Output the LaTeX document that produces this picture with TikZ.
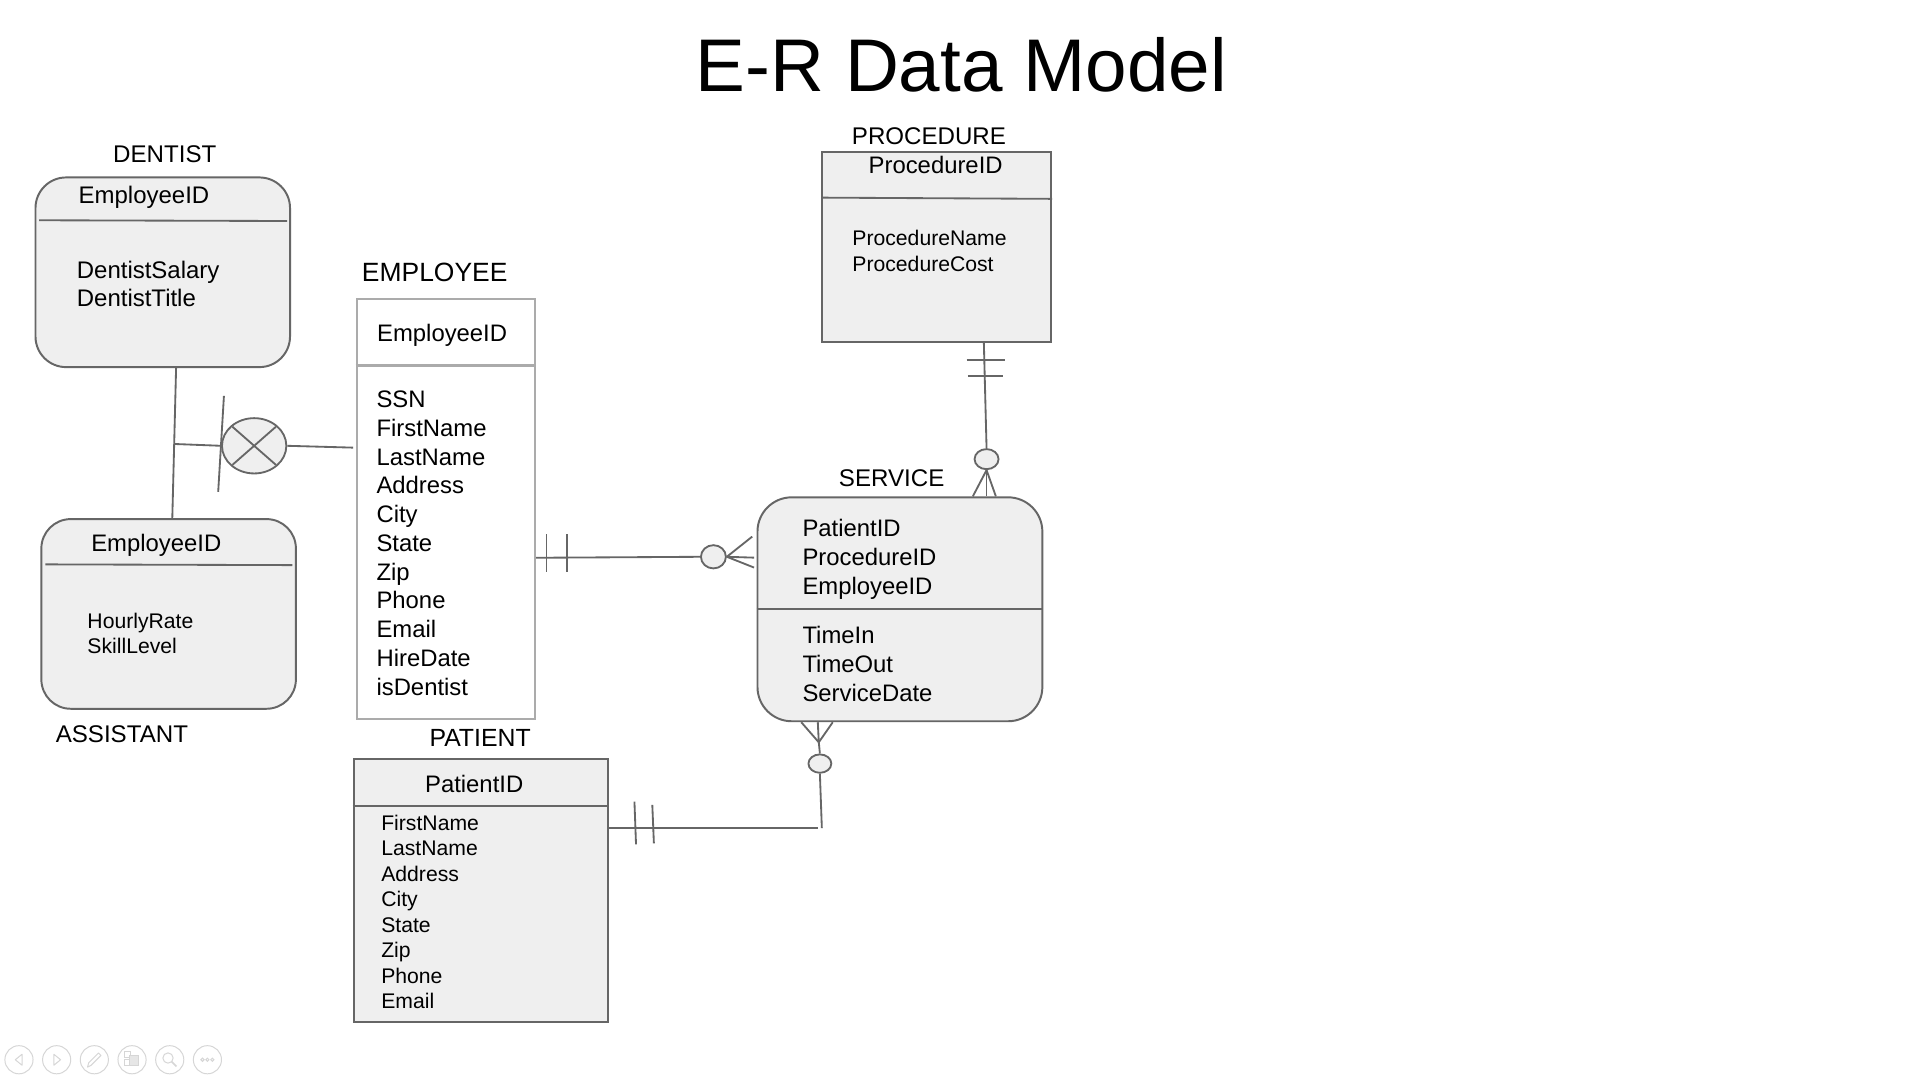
\documentclass[tikz,border=0pt]{standalone}
\usepackage{fontspec}
\setmainfont{Liberation Sans}
\usetikzlibrary{shapes.geometric,calc}
\definecolor{strk}{HTML}{666666}
\definecolor{fillg}{HTML}{EFEFEF}
\definecolor{lstrk}{HTML}{ABABAB}
\definecolor{iconc}{HTML}{D6D6D6}
\begin{document}
\begin{tikzpicture}[x=1pt,y=-1pt,
  box/.style={draw=strk, fill=fillg, line width=1.6pt, inner sep=0pt},
  rbox/.style={box, rounded corners=25pt},
  conn/.style={draw=strk, line width=1.5pt},
  circ/.style={ellipse, draw=strk, fill=fillg, line width=1.5pt, inner sep=0pt},
  lbl/.style={anchor=base west, inner sep=0pt, font=\fontsize{19.7}{23}\selectfont},
  attr/.style={anchor=base west, inner sep=0pt, font=\fontsize{19.5}{23}\selectfont},
  sattr/.style={anchor=base west, inner sep=0pt, font=\fontsize{17.3}{20}\selectfont},
  iconl/.style={draw=iconc, line width=0.8pt}
]
\useasboundingbox[fill=white] (0,0) rectangle (1569,883);

% title
\node[anchor=base, inner sep=0pt, font=\fontsize{61}{70}\selectfont] (title) at (785.6,74.9) {E-R Data Model};

% ---------- DENTIST ----------
\node[lbl] (dentlbl) at (92.3,132.8) {DENTIST};
\node[rbox, minimum width=208pt, minimum height=155pt] (dentist) at (133,222.5) {};
\draw[conn] (32,180) -- (234.6,180.6);
\node[attr, font=\fontsize{19.6}{24}\selectfont] (dent1) at (64.1,166.1) {EmployeeID};
\node[attr, font=\fontsize{19.6}{24}\selectfont] (dent2) at (62.6,227.5) {DentistSalary};
\node[attr, font=\fontsize{19.6}{24}\selectfont] (dent3) at (62.6,250.5) {DentistTitle};

% ---------- ASSISTANT ----------
\node[rbox, rounded corners=24pt, minimum width=208pt, minimum height=155pt] (assistant) at (137.8,501.7) {};
\draw[conn] (37,461.2) -- (239,461.8);
\node[attr] (asst1) at (74.4,450.7) {EmployeeID};
\node[sattr] (asst2) at (71.3,513.4) {HourlyRate};
\node[sattr] (asst3) at (71.3,533.7) {SkillLevel};
\node[lbl] (asstlbl) at (45.4,606.8) {ASSISTANT};

% ---------- EMPLOYEE ----------
\node[lbl, font=\fontsize{21.6}{25}\selectfont] (emplbl) at (295.6,230.2) {EMPLOYEE};
\node[draw=lstrk, fill=white, line width=1.8pt, inner sep=0pt, minimum width=145.8pt, minimum height=343pt] (employee) at (364.4,415.8) {};
\draw[draw=lstrk, line width=1.8pt] (employee.west|-0,298.7) -- (employee.east|-0,298.7);
\node[attr] (emp0) at (308,278.9) {EmployeeID};
\foreach \t [count=\i] in {SSN,FirstName,LastName,Address,City,State,Zip,Phone,Email,HireDate,isDentist}
  \node[attr] (emp\i) at (307.5,{333+(\i-1)*23.5}) {\t};

% ---------- PROCEDURE ----------
\node[lbl] (proclbl) at (696,118.4) {PROCEDURE};
\node[box, minimum width=187pt, minimum height=155pt] (procedure) at (765.5,202) {};
\draw[conn] (procedure.west|-0,161.5) -- (procedure.east|-0,162.5);
\node[attr, anchor=base] (proc1) at (764.6,142) {ProcedureID};
\node[sattr] (proc2) at (696.4,201) {ProcedureName};
\node[sattr] (proc3) at (696.4,221.6) {ProcedureCost};

% ---------- SERVICE ----------
\node[lbl] (servlbl) at (685.4,397.4) {SERVICE};
\node[rbox, rounded corners=28pt, minimum width=232.8pt, minimum height=183pt] (service) at (735.4,497.9) {};
\draw[conn] (service.west|-0,497.7) -- (service.east|-0,497.7);
\foreach \t/\yy [count=\i] in {PatientID/438.6,ProcedureID/462.5,EmployeeID/486,TimeIn/526,TimeOut/549.7,ServiceDate/573.6}
  \node[attr] (serv\i) at (655.6,\yy) {\t};

% ---------- PATIENT ----------
\node[lbl, font=\fontsize{20.3}{24}\selectfont] (patlbl) at (350.8,610) {PATIENT};
\node[box, minimum width=207.7pt, minimum height=214.8pt] (patient) at (392.8,727.5) {};
\draw[conn] (patient.west|-0,658.5) -- (patient.east|-0,658.5);
\node[attr, anchor=base] (pat0) at (387.5,648) {PatientID};
\foreach \t [count=\i] in {FirstName,LastName,Address,City,State,Zip,Phone,Email}
  \node[sattr] (pat\i) at (311.4,{678.6+(\i-1)*20.8}) {\t};

% ---------- DENTIST / ASSISTANT / EMPLOYEE connector ----------
\node[circ, minimum width=52.6pt, minimum height=45.2pt] (disj) at (207.7,364.3) {};
\draw[conn] ($(disj.center)+(-17.8,-15.6)$) -- ($(disj.center)+(17.8,15.6)$);
\draw[conn] ($(disj.center)+(17.8,-15.6)$) -- ($(disj.center)+(-17.8,15.6)$);
\draw[conn] ($(dentist.south)+(10.9,0)$) -- ($(assistant.north)+(3,0)$);
\coordinate (jn) at (142.2,362.8);
\draw[conn] (jn) -- (disj.west);
\coordinate (bart) at (183,323.5);
\coordinate (barb) at (178.3,402);
\draw[conn] (bart) -- (barb);
\draw[conn] (disj.east) -- ($(employee.west|-disj.east)+(-2,1.5)$);

% ---------- EMPLOYEE - SERVICE ----------
\node[circ, minimum width=20.4pt, minimum height=19pt] (c1) at (583,455) {};
\draw[conn] ($(employee.east|-c1.west)+(0,0.8)$) -- (c1.west);
\draw[conn] ($(employee.east|-c1)+(8.4,-18.6)$) -- ++(0,31);
\draw[conn] ($(employee.east|-c1)+(25,-18.6)$) -- ++(0,31);
\draw[conn] (c1.east) -- ($(service.west|-c1)+(-3.5,-16.5)$);
\draw[conn] (c1.east) -- ($(service.west|-c1)+(-2,0.7)$);
\draw[conn] (c1.east) -- ($(service.west|-c1)+(-2,8.8)$);

% ---------- PROCEDURE - SERVICE ----------
\node[circ, minimum width=19.6pt, minimum height=16.4pt] (c2) at (806.2,375.2) {};
\draw[conn] ($(procedure.south)+(38.5,0)$) -- (c2.north);
\draw[conn] ($(procedure.south)+(24.5,13.6)$) -- ++(31,0);
\draw[conn] ($(procedure.south)+(25.5,26.7)$) -- ++(29,0);
\draw[conn] (c2.south) -- ($(service.north)+(59.6,0)$);
\draw[conn] (c2.south) -- ($(service.north)+(70.8,0)$);
\draw[conn] (c2.south) -- ($(service.north)+(78.4,0)$);

% ---------- PATIENT - SERVICE ----------
\node[circ, minimum width=18.7pt, minimum height=15pt] (c3) at (670,624) {};
\coordinate (a3) at (669.1,606.6);
\draw[conn] (a3) -- ($(service.south)+(-80.6,0)$);
\draw[conn] (a3) -- ($(service.south)+(-67.1,0)$);
\draw[conn] (a3) -- ($(service.south)+(-54.9,0)$);
\draw[conn] (a3) -- (c3.north);
\coordinate (pc) at (671.6,676.7);
\draw[conn] (c3.south) -- (pc);
\draw[conn] (patient.east|-pc) -- ($(pc)+(-2.8,0)$);
\draw[conn] ($(patient.east|-pc)+(21,-21.7)$) -- ++(1.3,35);
\draw[conn] ($(patient.east|-pc)+(35.6,-19)$) -- ++(1.3,31.5);

% ---------- toolbar icons ----------
\foreach \k in {0,...,5}
  \draw[iconl] ({15.5+30.8*\k},866) circle (11.5);
\draw[iconl, line join=round] (18,861.5) -- (12.5,866) -- (18,870.5) -- cycle;
\draw[iconl, line join=round] (44,861.5) -- (49.5,866) -- (44,870.5) -- cycle;
\draw[iconl, line join=round] (71.5,872) -- (72.5,868.5) -- (80.5,860.5) -- (82.5,862.5) -- (74.5,870.5) -- cycle;
\draw[iconl] (102,859.5) rectangle (107,864.5);
\draw[iconl, fill=iconc!60] (106,862.5) rectangle (113.5,871);
\draw[iconl] (102,865.5) rectangle (105.5,871);
\draw[iconl] (137.3,864.6) circle (4.2);
\draw[iconl, line width=1.3pt] (140.3,867.6) -- (144.2,871.5);
\foreach \dx in {-4,0,4}
  \draw[iconl] ({169.5+\dx},866) circle (1.3);
\end{tikzpicture}
\end{document}
